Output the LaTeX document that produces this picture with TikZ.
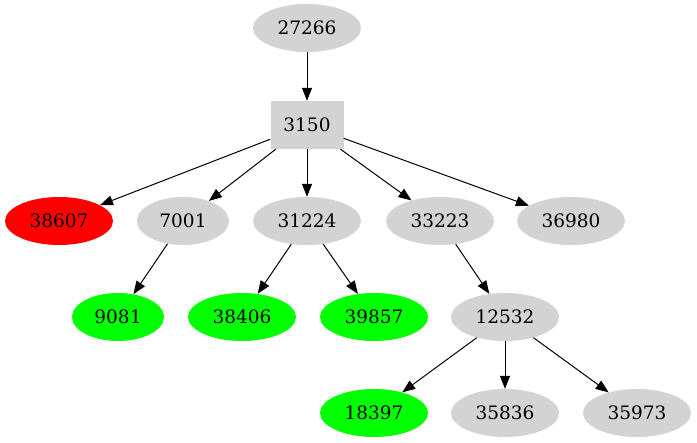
\documentclass[tikz,border=0pt]{standalone}
\usepackage{fontspec}
\setmainfont{DejaVu Serif}
\usetikzlibrary{shapes.geometric,arrows.meta}
\definecolor{gv}{HTML}{D3D3D3}
\definecolor{gvred}{HTML}{FF0000}
\definecolor{gvgreen}{HTML}{00FF00}
\tikzset{
  nd/.style={ellipse,fill=gv,draw=none,minimum height=48pt,minimum width=108pt,inner sep=0pt,font=\fontsize{18.5}{20}\selectfont},
  nds/.style={nd,minimum width=92pt},
  bx/.style={rectangle,fill=gv,draw=none,minimum height=48pt,minimum width=73pt,inner sep=0pt,font=\fontsize{18.5}{20}\selectfont},
  red/.style={fill=gvred},
  grn/.style={fill=gvgreen},
  edge/.style={draw=black,line width=1pt,-{Triangle[length=13pt,width=10pt]}}
}
\begin{document}
\begin{tikzpicture}[x=1pt,y=-1pt]
\useasboundingbox (0,0) rectangle (697,443);
\node[nd] (n27266) at (307,28) {27266};
\node[bx] (n3150) at (307,125) {3150};
\node[nd,red] (n38607) at (59,221) {38607};
\node[nds] (n7001) at (183,221) {7001};
\node[nd] (n31224) at (307,221) {31224};
\node[nd] (n33223) at (440,221) {33223};
\node[nd] (n36980) at (571,221) {36980};
\node[nds,grn] (n9081) at (118,317) {9081};
\node[nd,grn] (n38406) at (242,317) {38406};
\node[nd,grn] (n39857) at (374,317) {39857};
\node[nd] (n12532) at (505,317) {12532};
\node[nd,grn] (n18397) at (374,413) {18397};
\node[nd] (n35836) at (505,413) {35836};
\node[nd] (n35973) at (637,413) {35973};
\draw[edge] (n27266) -- (n3150);
\draw[edge] (n3150) -- (n38607);
\draw[edge] (n3150) -- (n7001);
\draw[edge] (n3150) -- (n31224);
\draw[edge] (n3150) -- (n33223);
\draw[edge] (n3150) -- (n36980);
\draw[edge] (n7001) -- (n9081);
\draw[edge] (n31224) -- (n38406);
\draw[edge] (n31224) -- (n39857);
\draw[edge] (n33223) -- (n12532);
\draw[edge] (n12532) -- (n18397);
\draw[edge] (n12532) -- (n35836);
\draw[edge] (n12532) -- (n35973);
\end{tikzpicture}
\end{document}
